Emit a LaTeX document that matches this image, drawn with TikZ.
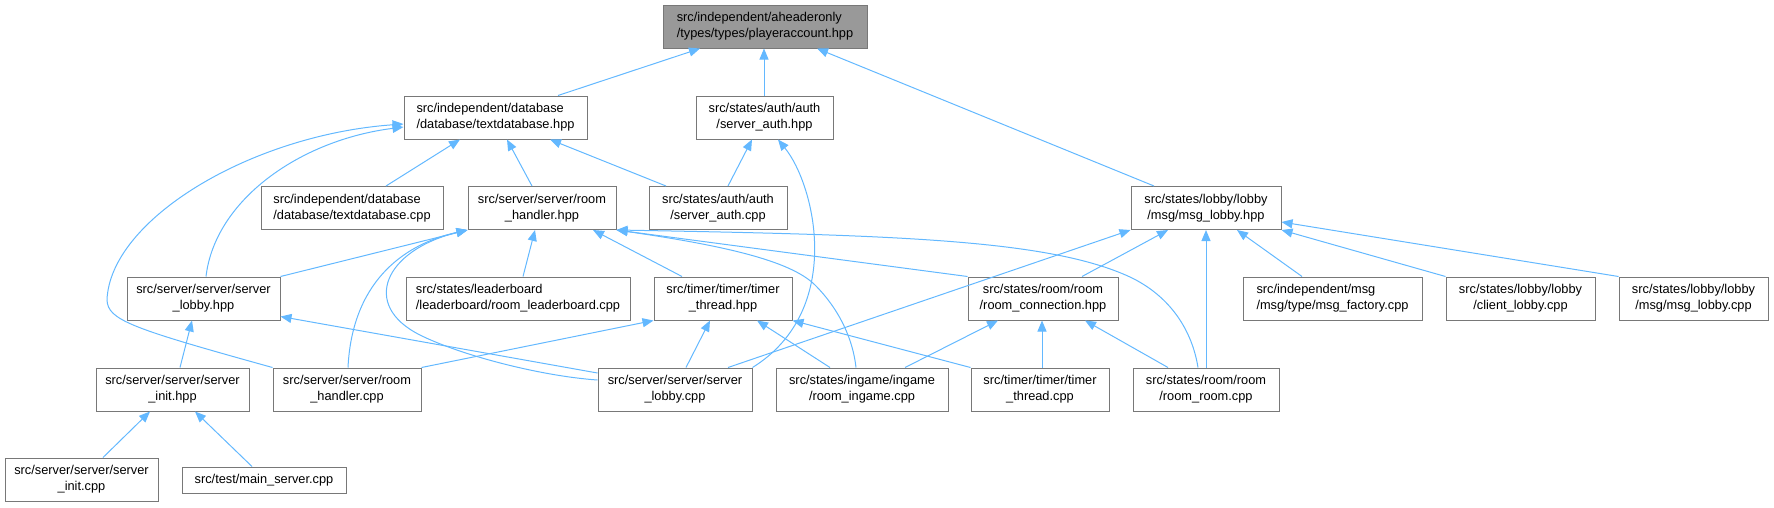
\documentclass[tikz,border=0pt]{standalone}
\usepackage{fontspec}
\setmainfont{Liberation Sans}
\usepackage{tikz}
\usetikzlibrary{arrows.meta}
\definecolor{edgeblue}{RGB}{99,184,255}
\definecolor{boxgrey}{RGB}{120,120,120}
\definecolor{focusgrey}{RGB}{153,153,153}

\begin{document}
\begin{tikzpicture}[
    x=1pt, y=-1pt,
    file/.style={rectangle, draw=boxgrey, fill=white, line width=1pt,
                 minimum width=#1, minimum height=43pt, inner sep=0pt,
                 align=center, font=\fontsize{12.8}{16}\selectfont},
    focus/.style={file=#1, fill=focusgrey, align=left},
    incl/.style={{Triangle[length=11pt, width=9pt]}-, draw=edgeblue, line width=1pt}
]
    \useasboundingbox (0,0) rectangle (1774,507);

    % Header and direct includers
    \node[focus=204pt] (playeracc) at (765,26.5) {src/independent/aheaderonly\\/types/types/playeraccount.hpp};
    \node[file=183pt, align=left] (tdbhpp) at (495.5,117.5) {src/independent/database\\/database/textdatabase.hpp};
    \node[file=137pt] (authhpp) at (764.5,117.5) {src/states/auth/auth\\/server\_auth.hpp};

    % Second row
    \node[file=182pt, align=left] (tdbcpp) at (352,208) {src/independent/database\\/database/textdatabase.cpp};
    \node[file=148pt] (rhhpp) at (542,208) {src/server/server/room\\\_handler.hpp};
    \node[file=138pt] (authcpp) at (718,208) {src/states/auth/auth\\/server\_auth.cpp};
    \node[file=150pt] (msghpp) at (1206,208) {src/states/lobby/lobby\\/msg/msg\_lobby.hpp};

    % Third row
    \node[file=153pt] (slhpp) at (203.5,298.5) {src/server/server/server\\\_lobby.hpp};
    \node[file=224pt, align=left] (leadcpp) at (518,298.5) {src/states/leaderboard\\/leaderboard/room\_leaderboard.cpp};
    \node[file=138pt] (tthpp) at (723,298.5) {src/timer/timer/timer\\\_thread.hpp};
    \node[file=150pt] (connhpp) at (1043,298.5) {src/states/room/room\\/room\_connection.hpp};
    \node[file=179pt, align=left] (factcpp) at (1332.5,298.5) {src/independent/msg\\/msg/type/msg\_factory.cpp};
    \node[file=149pt] (clientcpp) at (1520.5,298.5) {src/states/lobby/lobby\\/client\_lobby.cpp};
    \node[file=149pt] (msgcpp) at (1693.5,298.5) {src/states/lobby/lobby\\/msg/msg\_lobby.cpp};

    % Fourth row
    \node[file=153pt] (sihpp) at (172.5,389.5) {src/server/server/server\\\_init.hpp};
    \node[file=148pt] (rhcpp) at (347,389.5) {src/server/server/room\\\_handler.cpp};
    \node[file=154pt] (slcpp) at (675,389.5) {src/server/server/server\\\_lobby.cpp};
    \node[file=172pt] (ingamecpp) at (862,389.5) {src/states/ingame/ingame\\/room\_ingame.cpp};
    \node[file=138pt] (ttcpp) at (1040,389.5) {src/timer/timer/timer\\\_thread.cpp};
    \node[file=146pt] (roomcpp) at (1206,389.5) {src/states/room/room\\/room\_room.cpp};

    % Bottom row
    \node[file=153pt] (sicpp) at (81.5,479.5) {src/server/server/server\\\_init.cpp};
    \node[file=164pt, minimum height=26pt] (maincpp) at (264,480) {src/test/main\_server.cpp};

    % Edges into the header
    \draw[incl] ([xshift=-65pt]playeracc.south) -- ([xshift=62.5pt]tdbhpp.north);
    \draw[incl] ([xshift=-1pt]playeracc.south) -- ([xshift=-0.5pt]authhpp.north);
    \draw[incl] ([xshift=52pt]playeracc.south) -- ([xshift=-52pt]msghpp.north);

    % textdatabase.hpp
    \draw[incl] ([xshift=-35.5pt]tdbhpp.south) -- ([xshift=34pt]tdbcpp.north);
    \draw[incl] ([xshift=11.5pt]tdbhpp.south) -- ([xshift=-10pt]rhhpp.north);
    \draw[incl] ([xshift=54.5pt]tdbhpp.south) -- ([xshift=-52pt]authcpp.north);
    \draw[incl] ([yshift=-9.5pt]tdbhpp.west) .. controls (300,140) and (215,200) .. ([xshift=2.5pt]slhpp.north);
    \draw[incl] ([yshift=-6.5pt]tdbhpp.west) .. controls (250,135) and (110,220) .. (107,300)
        .. controls (108,320) and (130,328) .. (rhcpp.north west);

    % server_auth.hpp
    \draw[incl] ([xshift=-12.5pt]authhpp.south) -- ([xshift=10pt]authcpp.north);
    \draw[incl] ([xshift=13.5pt]authhpp.south) .. controls (815,185) and (845,310) .. (slcpp.north east);

    % room_handler.hpp
    \draw[incl] (rhhpp.south west) -- (slhpp.north east);
    \draw[incl] ([xshift=-7pt]rhhpp.south) -- ([xshift=5pt]leadcpp.north);
    \draw[incl] ([xshift=51pt]rhhpp.south) -- ([xshift=-41pt]tthpp.north);
    \draw[incl] (rhhpp.south west) .. controls (400,245) and (352,285) .. ([xshift=1pt]rhcpp.north);
    \draw[incl] (rhhpp.south west) .. controls (385,250) and (360,305) .. (420,335)
        .. controls (460,355) and (540,376) .. ([yshift=9.5pt]slcpp.west);
    \draw[incl] (rhhpp.south east) .. controls (720,245) and (790,260) .. (815,285)
        .. controls (840,310) and (853,340) .. ([xshift=-6pt]ingamecpp.north);
    \draw[incl] (rhhpp.south east) -- (connhpp.north west);
    \draw[incl] (rhhpp.south east) .. controls (900,235) and (1050,240) .. (1130,277)
        .. controls (1170,296) and (1192,330) .. ([xshift=-8pt]roomcpp.north);

    % timer_thread.hpp
    \draw[incl] (tthpp.south west) -- (rhcpp.north east);
    \draw[incl] ([xshift=-13pt]tthpp.south) -- ([xshift=11pt]slcpp.north);
    \draw[incl] ([xshift=34pt]tthpp.south) -- ([xshift=-32pt]ingamecpp.north);
    \draw[incl] (tthpp.south east) -- (ttcpp.north west);

    % server_lobby.hpp and server_init.hpp
    \draw[incl] ([yshift=4pt]slhpp.south east) -- ([yshift=16.5pt]slcpp.west);
    \draw[incl] ([xshift=-11.5pt]slhpp.south) -- ([xshift=7.5pt]sihpp.north);
    \draw[incl] ([xshift=-22.5pt]sihpp.south) -- ([xshift=21.5pt]sicpp.north);
    \draw[incl] ([xshift=22.5pt]sihpp.south) -- ([xshift=-12pt]maincpp.north);

    % room_connection.hpp
    \draw[incl] ([xshift=-45pt]connhpp.south) -- ([xshift=43pt]ingamecpp.north);
    \draw[incl] ([xshift=-1pt]connhpp.south) -- ([xshift=2pt]ttcpp.north);
    \draw[incl] ([xshift=42pt]connhpp.south) -- ([xshift=-38pt]roomcpp.north);

    % msg_lobby.hpp
    \draw[incl] (msghpp.south west) -- ([xshift=53pt]slcpp.north);
    \draw[incl] ([xshift=-38pt]msghpp.south) -- ([xshift=39pt]connhpp.north);
    \draw[incl] (msghpp.south) -- (roomcpp.north);
    \draw[incl] ([xshift=31pt]msghpp.south) -- ([xshift=-30.5pt]factcpp.north);
    \draw[incl] (msghpp.south east) -- (clientcpp.north west);
    \draw[incl] ([yshift=-14pt]msghpp.east) -- (msgcpp.north west);
\end{tikzpicture}
\end{document}
